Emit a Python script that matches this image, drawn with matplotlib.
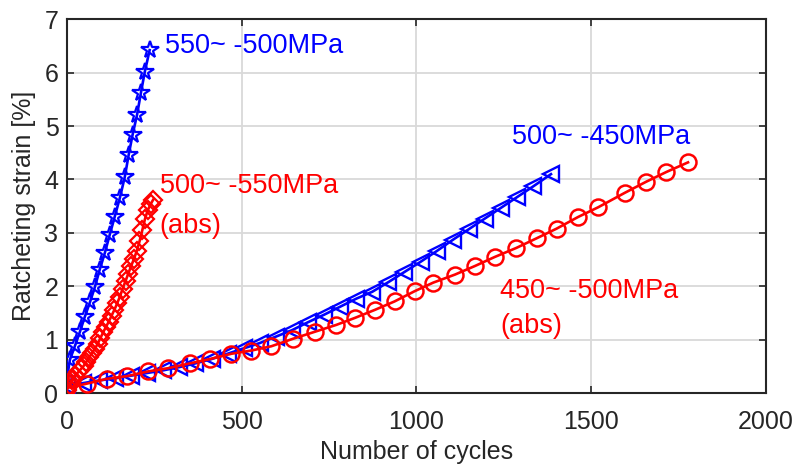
import matplotlib
matplotlib.use("Agg")
import matplotlib.pyplot as plt

plt.rcParams['font.family'] = ['Liberation Sans', 'DejaVu Sans']

# 550~ -500MPa (blue stars)
n_star = [0, 9, 23, 37, 51, 66, 80, 94, 109, 123, 137, 152, 166, 177, 188, 201, 212, 223, 237]
e_star = [0.26, 0.63, 0.88, 1.14, 1.42, 1.70, 1.98, 2.31, 2.63, 2.97, 3.30, 3.66, 4.05, 4.46, 4.83, 5.21, 5.62, 6.01, 6.42]

# 500~ -550MPa (abs) (red diamonds)
n_dia = [0, 8, 16, 24, 32, 40, 48, 56, 64, 72, 80, 88, 96, 104, 112, 120, 128, 136, 144, 152,
         160, 168, 176, 184, 192, 200, 208, 216, 224, 232, 240, 247]
e_dia = [0.07, 0.16, 0.25, 0.33, 0.39, 0.45, 0.51, 0.59, 0.67, 0.75, 0.83, 0.92, 1.03, 1.14, 1.24, 1.34,
         1.45, 1.56, 1.68, 1.81, 1.96, 2.10, 2.24, 2.38, 2.51, 2.66, 2.84, 3.05, 3.27, 3.43, 3.54, 3.62]

# 500~ -450MPa (blue triangles)
n_tri = [0, 46, 92, 138, 184, 230, 276, 322, 368, 414, 460, 506, 552, 598, 644, 690, 736, 782, 828,
         874, 920, 966, 1012, 1058, 1104, 1150, 1196, 1242, 1288, 1334, 1385]
e_tri = [0.14, 0.19, 0.24, 0.28, 0.33, 0.38, 0.43, 0.49, 0.56, 0.64, 0.74, 0.84, 0.94, 1.06, 1.18, 1.33,
         1.47, 1.62, 1.77, 1.90, 2.08, 2.27, 2.46, 2.66, 2.87, 3.07, 3.27, 3.47, 3.67, 3.87, 4.10]

# 450~ -500MPa (abs) (red circles)
n_cir = [0, 57, 114, 171, 233, 290, 352, 409, 471, 528, 585, 647, 709, 771, 824, 881, 938, 995, 1048,
         1110, 1167, 1224, 1286, 1344, 1401, 1463, 1520, 1596, 1658, 1715, 1777]
e_cir = [0.10, 0.18, 0.27, 0.32, 0.41, 0.47, 0.56, 0.64, 0.74, 0.80, 0.88, 1.02, 1.15, 1.28, 1.41, 1.56,
         1.72, 1.91, 2.07, 2.22, 2.38, 2.55, 2.72, 2.90, 3.08, 3.30, 3.48, 3.75, 3.96, 4.14, 4.32]

x_ticks = [0, 500, 1000, 1500, 2000]
y_ticks = [0, 1, 2, 3, 4, 5, 6, 7]

fig = plt.figure(figsize=(7.95, 4.66), dpi=100)
ax = fig.add_axes([0.084, 0.156, 0.8795, 0.803])

lw = 1.9
ax.plot(n_tri, e_tri, '-', marker='<', color='blue', ms=12, mfc='none', mew=1.7, lw=lw, zorder=3)
ax.plot(n_cir, e_cir, '-', marker='o', color='red', ms=11.5, mfc='none', mew=1.8, lw=lw, zorder=4)
ax.plot(n_star, e_star, '-', marker='*', color='blue', ms=13, mfc='none', mew=1.6, lw=lw, zorder=5)
ax.plot(n_dia, e_dia, '-', marker='D', color='red', ms=9.5, mfc='none', mew=1.6, lw=lw, zorder=6)

fs = 18
afs = 19.5
ax.text(280, 6.5, '550~ -500MPa', color='blue', fontsize=afs, ha='left', va='center')
ax.text(266, 3.87, '500~ -550MPa', color='red', fontsize=afs, ha='left', va='center')
ax.text(266, 3.13, '(abs)', color='red', fontsize=afs, ha='left', va='center')
ax.text(1273, 4.79, '500~ -450MPa', color='blue', fontsize=afs, ha='left', va='center')
ax.text(1239, 1.91, '450~ -500MPa', color='red', fontsize=afs, ha='left', va='center')
ax.text(1239, 1.26, '(abs)', color='red', fontsize=afs, ha='left', va='center')

ax.set_xlim(0, 2000)
ax.set_ylim(0, 7)
ax.set_xticks(x_ticks)
ax.set_yticks(y_ticks)
ax.grid(True, color='#d9d9d9', lw=1.3)
ax.set_axisbelow(True)
ax.tick_params(direction='in', top=True, right=True, length=5, width=1.2,
               labelsize=fs, colors='#262626')
ax.tick_params(axis='x', pad=12)
ax.tick_params(axis='y', pad=6)
for s in ax.spines.values():
    s.set_color('#262626')
    s.set_linewidth(1.5)
ax.set_xlabel('Number of cycles', fontsize=fs, color='#262626', labelpad=4)
ax.set_ylabel('Ratcheting strain [%]', fontsize=fs, color='#262626', labelpad=6)

fig.savefig('out.png', dpi=100)
